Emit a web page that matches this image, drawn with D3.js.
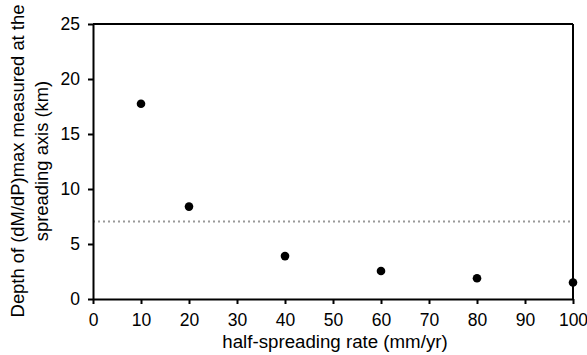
<!DOCTYPE html>
<html><head><meta charset="utf-8">
<script src="https://cdn.jsdelivr.net/npm/d3@7"></script>
<style>body{margin:0;background:#fff;} text{font-family:"Liberation Sans",Arial,sans-serif;}</style>
</head><body><svg id="c" width="587" height="355"></svg>
<script>
const rates = [10, 20, 40, 60, 80, 100];
const depths = [17.75, 8.4, 3.9, 2.55, 1.88, 1.5];
const refDepth = 7.05;
const xTicks = [0,10,20,30,40,50,60,70,80,90,100];
const yTicks = [0,5,10,15,20,25];
const xTitle = "half-spreading rate (mm/yr)";
const yTitle = ["Depth of (dM/dP)max measured at the", "spreading axis (km)"];

const svg = d3.select("#c");
const m = {l:93, r:573, t:24, b:299};
const x = d3.scaleLinear().domain([0,100]).range([m.l, m.r]);
const y = d3.scaleLinear().domain([0,25]).range([m.b, m.t]);

// frame top/right
svg.append("line").attr("x1",m.l).attr("x2",m.r).attr("y1",m.t).attr("y2",m.t).attr("stroke","#000").attr("stroke-width",2);
svg.append("line").attr("x1",m.r).attr("x2",m.r).attr("y1",m.t).attr("y2",m.b).attr("stroke","#000").attr("stroke-width",2);

// reference line
svg.append("line").attr("x1",m.l).attr("x2",m.r).attr("y1",y(refDepth)).attr("y2",y(refDepth))
  .attr("stroke","#999").attr("stroke-width",2).attr("stroke-dasharray","2,3");

const xa = svg.append("g").attr("transform",`translate(0,${m.b})`)
  .call(d3.axisBottom(x).tickValues(xTicks).tickSize(5).tickPadding(10).tickSizeOuter(0));
const ya = svg.append("g").attr("transform",`translate(${m.l},0)`)
  .call(d3.axisLeft(y).tickValues(yTicks).tickSize(5).tickPadding(8).tickSizeOuter(0));
[xa,ya].forEach(g=>{
  g.select(".domain").attr("stroke","#000").attr("stroke-width",2);
  g.selectAll(".tick line").attr("stroke","#000").attr("stroke-width",2);
  g.selectAll(".tick text").attr("font-size",17.5).attr("fill","#000").style("font-family","Liberation Sans, Arial, sans-serif");
});

svg.append("g").selectAll("circle").data(rates).join("circle")
  .attr("cx",(d)=>x(d)).attr("cy",(d,i)=>y(depths[i])).attr("r",4.3).attr("fill","#000");

svg.append("text").attr("x",(m.l+m.r)/2 + 2).attr("y",348).attr("text-anchor","middle")
  .attr("font-size",18.7).text(xTitle);
const yt = svg.append("text").attr("transform","translate(24,161) rotate(-90)").attr("text-anchor","middle").attr("font-size",18.4);
yt.append("tspan").attr("x",0).attr("dy",0).text(yTitle[0]);
yt.append("tspan").attr("x",0).attr("dy",24).text(yTitle[1]);
</script></body></html>
